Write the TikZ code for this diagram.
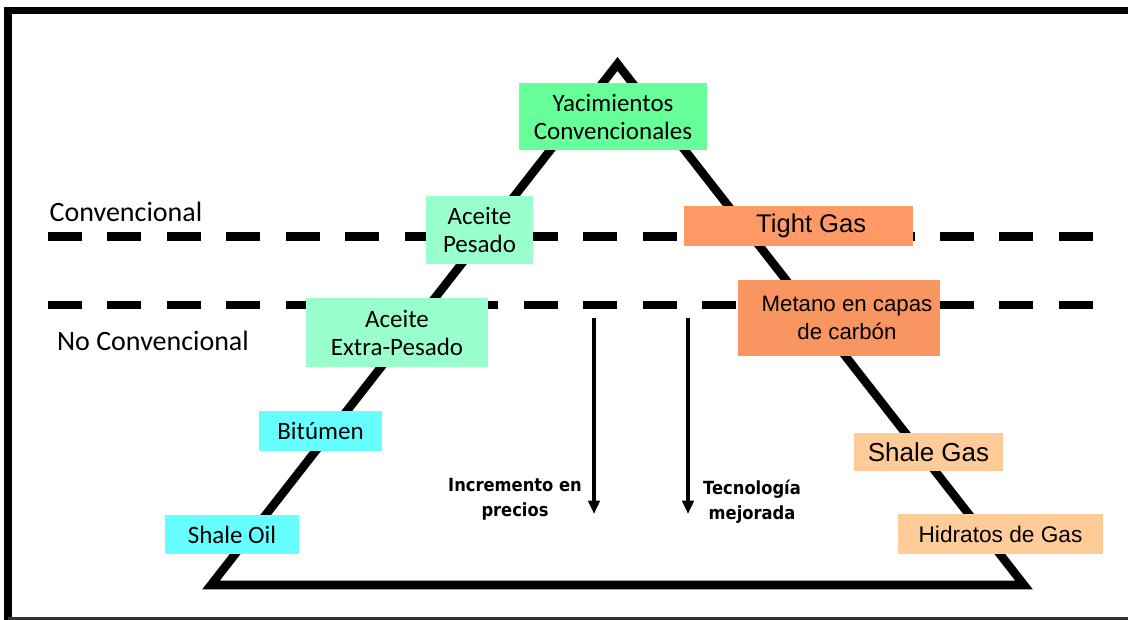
\documentclass[tikz,border=0pt]{standalone}
\usepackage{fontspec}
\setmainfont{Carlito}
\newfontfamily\arialfont{Liberation Sans}
\newfontfamily\verdfont[FakeStretch=0.9]{DejaVu Sans}
\usetikzlibrary{arrows.meta}

\definecolor{convgreen}{HTML}{66FF99}
\definecolor{mintbox}{HTML}{99FFCC}
\definecolor{cyanbox}{HTML}{66FFFF}
\definecolor{salmonbox}{HTML}{FF9966}
\definecolor{metanobox}{HTML}{F99560}
\definecolor{peachbox}{HTML}{FFCC99}

\begin{document}
\begin{tikzpicture}[x=0.75pt,y=-0.75pt]
        \tikzstyle{box}=[inner sep=0pt, align=center, text=black]
        \tikzstyle{calbox}=[box, font=\fontsize{18.75}{21}\selectfont]
        \tikzstyle{arialbox}=[box, font=\arialfont\fontsize{19.2}{21}\selectfont]
        \tikzstyle{side label}=[inner sep=0pt, font=\fontsize{21}{24}\selectfont]
        \tikzstyle{trend label}=[inner sep=0pt, align=center, font=\verdfont\bfseries\fontsize{13.6}{18.5}\selectfont]
        \tikzstyle{dashline}=[line width=6.4pt, dash pattern=on 25.5pt off 19.1pt]
        \tikzstyle{trend}=[line width=2.6pt, -{Triangle[width=8.5pt,length=10pt]}]

        \useasboundingbox (0,0) rectangle (1128,620);

        % Frame
        \draw[line width=5.6pt] (4,10.5) -- (1128,10.5);
        \draw[line width=6pt] (8,7) -- (8,620);
        \draw[line width=1.8pt, black!80] (8,618.5) -- (1128,618.5);

        % Draw the triangle
        \coordinate (apex) at (617.5,64);
        \coordinate (base-l) at (211,585);
        \coordinate (base-r) at (1024,585);
        \draw[line width=6.4pt] (apex) -- (base-r) -- (base-l) -- cycle;

        % Dashed borders between the zones
        \coordinate (d1-l) at (48,236.5);
        \coordinate (d1-r) at (1096,236.5);
        \coordinate (d2-l) at (48,305);
        \coordinate (d2-r) at (1096,305);
        \draw[dashline] (d1-l) -- (d1-r);
        \draw[dashline] (d2-l) -- (d2-r);

        % Zone labels
        \node[side label] (conv) at (126,212) {Convencional};
        \node[side label] (noconv) at (153,341) {No Convencional};

        % Left side of the triangle
        \node[calbox, fill=convgreen, minimum width=141pt, minimum height=50.25pt] (yac) at (613,116.5) {Yacimientos\\Convencionales};
        \node[calbox, fill=mintbox, minimum width=80.25pt, minimum height=51pt] (Ac-1) at (479.5,230) {Aceite\\Pesado};
        \node[calbox, fill=mintbox, minimum width=136.5pt, minimum height=51.75pt] (Ac-2) at (397,332.5) {Aceite\\Extra-Pesado};
        \node[calbox, fill=cyanbox, minimum width=92.25pt, minimum height=30pt] (bitumen) at (320.5,431) {Bitúmen};
        \node[calbox, fill=cyanbox, minimum width=100.5pt, minimum height=29.25pt] (shaleoil) at (232,534.5) {Shale Oil};

        % Right side of the triangle
        \node[arialbox, fill=salmonbox, minimum width=171.75pt, minimum height=30pt] (Gs-1) at (798.5,226) {\hspace*{19pt}Tight Gas};
        \node[arialbox, fill=metanobox, minimum width=151.5pt, minimum height=57pt, font=\arialfont\fontsize{16.7}{21}\selectfont] (Gs-2) at (839,318) {\hspace*{12pt}Metano en capas\\\hspace*{12pt}de carbón};
        \node[arialbox, fill=peachbox, minimum width=111.75pt, minimum height=28.5pt, font=\arialfont\fontsize{19.5}{21}\selectfont] (Gs-3) at (928.5,452) {Shale Gas};
        \node[arialbox, fill=peachbox, minimum width=153.75pt, minimum height=30pt, font=\arialfont\fontsize{17}{21}\selectfont] (Gs-4) at (1000.5,534) {Hidratos de Gas};

        % Trend arrows
        \coordinate (inc-top) at (594,318);
        \coordinate (inc-end) at (594,514);
        \coordinate (tec-top) at (688,318);
        \coordinate (tec-end) at (688,514);
        \draw[trend] (inc-top) -- (inc-end);
        \draw[trend] (tec-top) -- (tec-end);
        \node[trend label] (inc) at (515,499) {Incremento en\\precios};
        \node[trend label] (tec) at (752,502) {Tecnología\\mejorada};
\end{tikzpicture}
\end{document}
